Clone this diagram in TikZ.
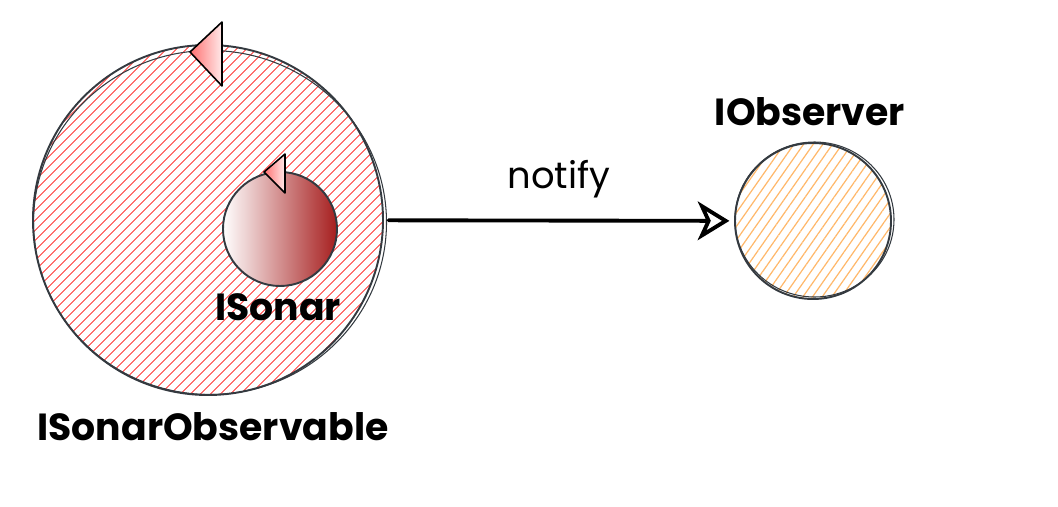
\documentclass[tikz,border=0pt]{standalone}
\usepackage{fontspec}
\setmainfont{Poppins}
\usepackage{tikz}
\usetikzlibrary{arrows.meta, positioning, patterns.meta, shadings}

\definecolor{ink}{HTML}{343A40}
\definecolor{hatchred}{HTML}{FF7070}
\definecolor{hatchorange}{HTML}{FFB86B}
\definecolor{darkred}{HTML}{A61E1E}

\begin{document}
\begin{tikzpicture}[
  ring/.style={circle, draw=ink, line width=1.1pt, inner sep=0pt},
  observable/.style={ring, minimum size=7cm, pattern={Lines[angle=45, distance=4pt, line width=0.7pt]}, pattern color=hatchred},
  sonar/.style={ring, minimum size=2.28cm, left color=white, right color=darkred},
  observer/.style={ring, minimum size=3.12cm, pattern={Lines[angle=55, distance=4.5pt, line width=0.7pt]}, pattern color=hatchorange},
  label/.style={font=\fontsize{21.5}{25}\selectfont\bfseries, text=black},
  tip/.style={draw=black, line width=0.9pt, line join=round, left color=hatchred, right color=hatchred!15},
  arrow/.style={-{Stealth[open, length=18pt, width=22pt, inset=5pt]}, line width=2.2pt, line cap=round}
]
\useasboundingbox (0,0) rectangle (21.16,10.12);

\node[observable] (bigC) at (4.16,5.72) {};
\draw[ink, line width=0.6pt] ([shift={(0.04,-0.05)}]bigC.center) ellipse (3.53 and 3.44);
\node[sonar] (smallC) at (5.6,5.54) {};
\node[observer] (obs) at (16.26,5.70) {};
\draw[ink, line width=0.6pt] ([shift={(0.03,0.03)}]obs.center) ellipse (1.59 and 1.55);

% arrowheads riding on the circles
\filldraw[tip] (3.8,9.08) -- (4.44,9.68) -- (4.44,8.4) -- cycle;
\filldraw[tip] (5.28,6.68) -- (5.7,7.04) -- (5.7,6.26) -- cycle;

\node[label] (sonarLbl) at (5.56,3.98) {ISonar};
\node[label] (observableLbl) at (4.26,1.58) {ISonarObservable};
\node[label] (observerLbl) at (16.2,7.88) {IObserver};

\draw[arrow, shorten <=0.1cm, shorten >=0.1cm] (bigC) -- node[label, font=\fontsize{21}{25}\selectfont, above=0.3cm] (notifyLbl) {notify} (obs);

\end{tikzpicture}
\end{document}
